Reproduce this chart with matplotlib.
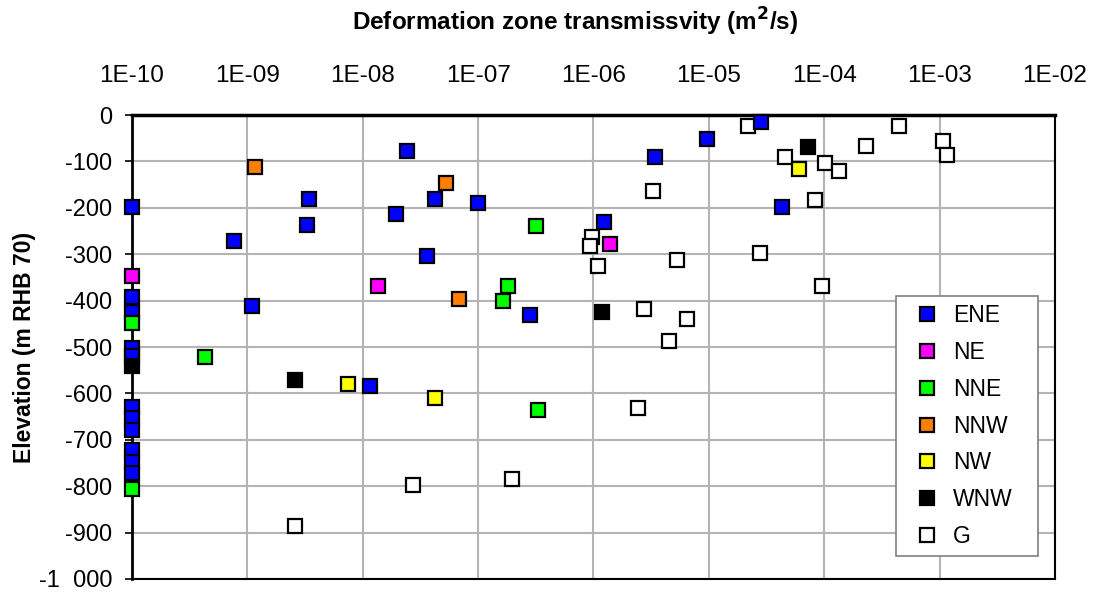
import math
import matplotlib
matplotlib.use("Agg")
import matplotlib.pyplot as plt
from matplotlib.ticker import FixedLocator, FuncFormatter, NullLocator

plt.rcParams['font.family'] = ['Liberation Sans', 'DejaVu Sans']

# transmissivity (m2/s) and elevation (m RHB 70) per deformation zone set
ene_t = [1e-10, 1e-10, 1e-10, 1e-10, 1e-10, 1e-10, 1e-10, 1e-10, 1e-10, 1e-10, 1e-10,
         7.7e-10, 1.1e-9, 3.4e-9, 3.3e-9, 2.44e-8, 4.2e-8, 1.0e-7, 1.93e-8, 3.6e-8,
         2.8e-7, 1.16e-8, 3.44e-6, 9.6e-6, 2.83e-5, 4.27e-5, 1.24e-6]
ene_z = [-198, -392, -424, -503, -519, -629, -652, -679, -722, -747, -772,
         -271, -411, -180, -236, -78, -180, -189, -214, -303,
         -431, -584, -91, -52, -14, -198, -231]

ne_t = [1e-10, 1.36e-8, 1.4e-6]
ne_z = [-347, -368, -279]

nne_t = [1e-10, 1e-10, 4.3e-10, 3.15e-7, 1.82e-7, 1.66e-7, 3.3e-7]
nne_z = [-449, -807, -521, -239, -368, -401, -636]

nnw_t = [1.17e-9, 5.3e-8, 6.8e-8]
nnw_z = [-113, -147, -397]

nw_t = [7.5e-9, 4.2e-8, 6.1e-5]
nw_z = [-580, -611, -116]

wnw_t = [1e-10, 2.58e-9, 1.19e-6, 7.2e-5]
wnw_z = [-540, -571, -425, -68]

g_t = [2.17e-5, 4.6e-5, 3.3e-6, 9.7e-7, 9.4e-7, 1.09e-6, 5.3e-6, 2.77e-5, 9.5e-5,
       2.73e-6, 6.5e-6, 4.5e-6, 2.42e-6, 2.72e-8, 1.96e-7, 2.58e-9, 4.46e-4,
       2.32e-4, 1.07e-3, 1.15e-3, 1.02e-4, 1.33e-4, 8.3e-5]
g_z = [-23, -91, -163, -262, -282, -325, -312, -298, -368,
       -418, -440, -486, -631, -797, -784, -886, -23,
       -66, -56, -86, -104, -121, -183]

decades = [1e-10, 1e-9, 1e-8, 1e-7, 1e-6, 1e-5, 1e-4, 1e-3, 1e-2]
depths = list(range(0, -1001, -100))

fig = plt.figure(figsize=(10.96, 5.92), dpi=100)
ax = fig.add_axes([0.1204, 0.022, 0.8422, 0.7837])

groups = [
    ("ENE", ene_t, ene_z, "#0000ff"),
    ("NE", ne_t, ne_z, "#ff00ff"),
    ("NNE", nne_t, nne_z, "#00ff00"),
    ("NNW", nnw_t, nnw_z, "#ff8000"),
    ("NW", nw_t, nw_z, "#ffff00"),
    ("WNW", wnw_t, wnw_z, "#000000"),
    ("G", g_t, g_z, "#ffffff"),
]
for name, t, z, col in groups:
    zo = 3 if name == "G" else 4
    ax.plot(t, z, linestyle='none', marker='s', markersize=10.5,
            markerfacecolor=col, markeredgecolor='black', markeredgewidth=1.6,
            label=name, clip_on=False, zorder=zo)

ax.set_xscale('log')
ax.set_xlim(1e-10, 1e-2)
ax.set_ylim(-1000, 0)
ax.xaxis.set_major_locator(FixedLocator(decades))
ax.xaxis.set_minor_locator(NullLocator())
ax.xaxis.set_major_formatter(FuncFormatter(lambda v, p: "1E%03d" % round(math.log10(v))))
ax.xaxis.tick_top()
ax.tick_params(axis='x', length=0, pad=20, labelsize=17.5)

ax.yaxis.set_major_locator(FixedLocator(depths))
ax.yaxis.set_major_formatter(FuncFormatter(lambda v, p: f"{int(v):,}".replace(",", "  ")))
ax.tick_params(axis='y', length=5, width=1.2, pad=9, labelsize=17, direction='out')

ax.grid(True, color='#b4b4b4', linewidth=1.5)
ax.set_axisbelow(True)
for s in ax.spines.values():
    s.set_linewidth(1.5)
ax.spines['top'].set_linewidth(2.5)
ax.spines['left'].set_linewidth(2.0)

fig.text(575 / 1096, 1 - 22 / 592, "Deformation zone transmissvity (m$^\\mathbf{2}$/s)",
         fontsize=17.5, fontweight='bold', ha='center', va='center')
fig.text(25 / 1096, 1 - 347 / 592, "Elevation (m RHB 70)", rotation=90,
         fontsize=16.5, fontweight='bold', ha='center', va='center')

leg = ax.legend(loc='lower left', bbox_to_anchor=(0.8277, 0.0496, 0.1538, 0.5647),
                mode='expand', fontsize=16.5,
                frameon=True, fancybox=False, framealpha=1, edgecolor='#808080',
                labelspacing=0.6, handletextpad=0.15, borderpad=0.35,
                handlelength=2.0, borderaxespad=0)
leg.get_frame().set_linewidth(1.2)

fig.savefig("out.png", dpi=100)
